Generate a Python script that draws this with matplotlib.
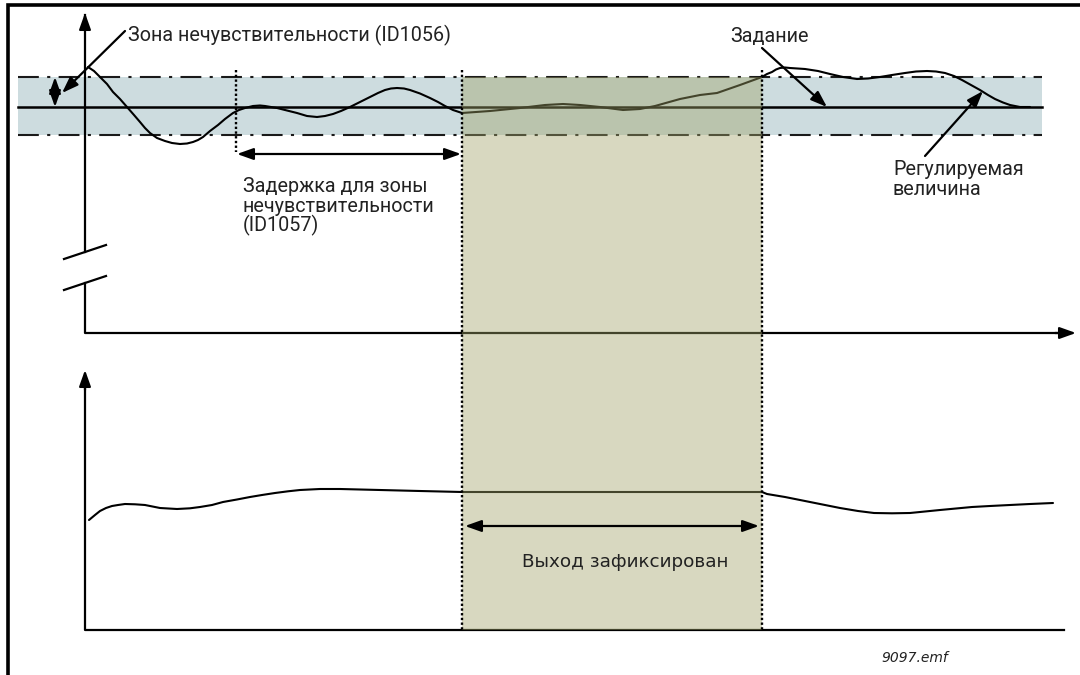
import matplotlib
matplotlib.use("Agg")
import matplotlib.pyplot as plt
from matplotlib.patches import Rectangle

# process value (upper trace), screen units
pv_x = [88, 94, 100, 107, 113, 120, 127, 134, 140, 145, 150, 157, 165, 172, 180, 187, 193, 198,
        203, 210, 218, 225, 233, 239, 245, 253, 260, 265, 271, 277, 287, 297, 307, 317, 325,
        333, 341, 350, 360, 370, 378, 385, 391, 397, 404, 410, 420, 430, 438, 445, 453, 462,
        490, 520, 545, 563, 580, 600, 623, 640, 655, 680, 700, 717, 740, 762,
        767, 772, 776, 780, 785, 790, 805, 818, 830, 843, 857, 868, 880, 892, 905, 916, 927,
        936, 945, 954, 962, 971, 980, 988, 995, 1003, 1010, 1015, 1020, 1030]
pv_y = [67, 71, 77, 84, 92, 99, 107, 115, 122, 128, 133, 138, 141, 143, 144, 143.5, 142, 140,
        137, 131, 125, 119, 113, 110, 108, 106, 105.5, 106, 107, 108, 110.5, 113, 116, 117, 116,
        114, 111, 107, 102, 97, 93, 90, 88.5, 88, 88.5, 90, 93.5, 98, 102, 106, 110, 113,
        111, 108, 105, 104, 105, 107, 110, 109, 106, 99, 95, 93, 85, 77,
        74, 72, 69.5, 68, 67.5, 68, 69, 71, 74, 77, 79, 78.5, 77, 75, 73, 71.5, 71,
        71.5, 73, 76, 80, 85, 90, 95, 99, 102.5, 105, 106, 107, 107]

# controller output (lower trace)
out_x = [89, 95, 100, 106, 112, 118, 125, 135, 145, 160, 177, 190, 200, 212, 223, 237, 250,
         262, 275, 288, 300, 320, 340, 380, 420, 462,
         762, 767, 785, 800, 820, 840, 858, 874, 892, 910, 925, 940, 956, 972, 990, 1010, 1030, 1053]
out_y = [520, 515, 511, 508, 506, 505, 504, 504.3, 505, 508, 509, 508.3, 507, 505, 502, 499.5, 497,
         495, 493, 491.3, 490, 489, 489, 490, 491, 492,
         492, 494, 497, 500, 504, 508, 511, 513, 513.3, 513, 511.5, 510, 508.5, 507, 506, 505, 504, 503]

setpoint = 107
band_lo, band_hi = 77, 135
delay_start, hold_start, hold_end = 236, 462, 762

fig = plt.figure(figsize=(10.8, 6.75), dpi=100)
ax = fig.add_axes([0, 0, 1, 1])
ax.set_xlim(0, 1080)
ax.set_ylim(675, 0)
ax.axis("off")

lbl = dict(family=["Roboto", "DejaVu Sans"], fontsize=14.2, color="#222222")
arrow = dict(arrowstyle="-|>,head_length=0.7,head_width=0.25", color="black", lw=1.6,
             shrinkA=0, shrinkB=0, mutation_scale=14)
darrow = dict(arrow, arrowstyle="<|-|>,head_length=0.7,head_width=0.25")
curve = dict(color="black", lw=1.5, solid_joinstyle="round", solid_capstyle="round", zorder=4)

# frame
ax.plot([8, 8, 1080], [675, 5, 5], color="black", lw=2.6, solid_joinstyle="miter")

# dead band
ax.add_patch(Rectangle((18, band_lo), 1042 - 18, band_hi - band_lo, color="#cddcdf", lw=0, zorder=1))
for yb in (band_lo, band_hi):
    ax.plot([18, 1042], [yb, yb], color="#1a1a1a", lw=1.5, ls=(0, (10, 4, 1.5, 4)), zorder=2)
ax.plot([18, 1042], [setpoint, setpoint], color="black", lw=1.8, zorder=2)

# upper axes with break
ax.plot([85, 85], [252, 15], color="black", lw=1.6, zorder=3)
ax.annotate("", xy=(85, 13), xytext=(85, 30), arrowprops=arrow, zorder=3)
ax.plot([85, 85, 1062], [283, 333, 333], color="black", lw=1.6, zorder=3)
ax.annotate("", xy=(1076, 333), xytext=(1055, 333), arrowprops=arrow, zorder=3)
ax.plot([64, 106], [259, 245], color="black", lw=1.6)
ax.plot([64, 106], [290, 276], color="black", lw=1.6)

# lower axes
ax.plot([85, 85, 1064], [385, 630, 630], color="black", lw=1.6, zorder=3)
ax.annotate("", xy=(85, 370), xytext=(85, 390), arrowprops=arrow, zorder=3)

# traces
ax.plot(pv_x, pv_y, **curve)
ax.plot(out_x, out_y, **curve)

# output hold interval
ax.add_patch(Rectangle((hold_start, band_lo), hold_end - hold_start, 630 - band_lo,
                       color="#a2a469", alpha=0.42, lw=0, zorder=5))

# markers of delay and hold
dots = dict(color="black", lw=1.7, ls=(0, (1.0, 1.0)), zorder=6)
ax.plot([delay_start, delay_start], [70, 152], **dots)
for xv in (hold_start, hold_end):
    ax.plot([xv, xv], [70, 630], **dots)

ax.annotate("", xy=(55, band_lo), xytext=(55, setpoint), arrowprops=darrow, zorder=6)
ax.annotate("", xy=(delay_start + 1, 154), xytext=(hold_start - 1, 154), arrowprops=darrow, zorder=6)
ax.annotate("", xy=(hold_start + 3, 526), xytext=(hold_end - 3, 526), arrowprops=darrow, zorder=6)

ax.annotate("", xy=(62, 93), xytext=(125, 31), arrowprops=arrow, zorder=6)
ax.annotate("", xy=(827, setpoint), xytext=(762, 48), arrowprops=arrow, zorder=6)
ax.annotate("", xy=(983, 91), xytext=(925, 156), arrowprops=arrow, zorder=6)

# labels
ax.text(128, 41, "Зона нечувствительности (ID1056)", va="baseline", ha="left", **lbl)
ax.text(730, 42, "Задание", va="baseline", ha="left", **lbl)
ax.text(243, 192, "Задержка для зоны", va="baseline", ha="left", **lbl)
ax.text(243, 212, "нечувствительности", va="baseline", ha="left", **lbl)
ax.text(243, 231, "(ID1057)", va="baseline", ha="left", **lbl)
ax.text(893, 175, "Регулируемая", va="baseline", ha="left", **lbl)
ax.text(893, 195, "величина", va="baseline", ha="left", **lbl)
ax.text(625, 567, "Выход зафиксирован", va="baseline", ha="center",
        family="DejaVu Sans", fontsize=13.2, color="#222222", zorder=7)
ax.text(881, 662, "9097.emf", va="baseline", ha="left",
        family="DejaVu Sans", fontsize=10, style="italic", color="#222222")

fig.savefig("out.png", dpi=100)
